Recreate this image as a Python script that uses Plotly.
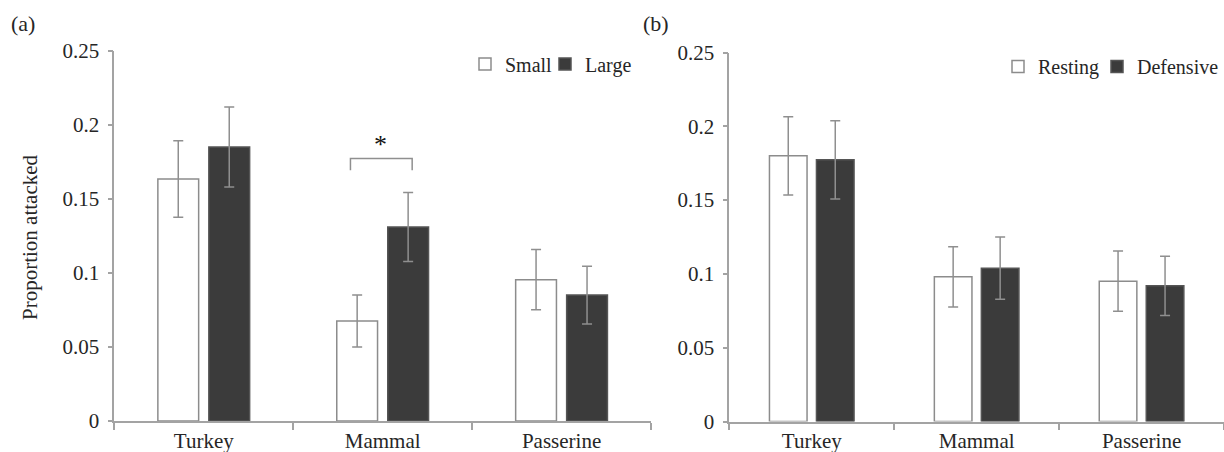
import plotly.graph_objects as go

categories = ["Turkey", "Mammal", "Passerine"]

# Panel (a): prey size
small_vals = [0.1635, 0.0676, 0.0955]
small_err = [0.0258, 0.0176, 0.0203]
large_vals = [0.1851, 0.1311, 0.0851]
large_err = [0.0270, 0.0233, 0.0195]

# Panel (b): posture
resting_vals = [0.1800, 0.0980, 0.0951]
resting_err = [0.0265, 0.0204, 0.0204]
defensive_vals = [0.1773, 0.1039, 0.0919]
defensive_err = [0.0265, 0.0211, 0.0200]

y_ticks = [0, 0.05, 0.1, 0.15, 0.2, 0.25]
y_tick_labels = ["0", "0.05", "0.1", "0.15", "0.2", "0.25"]

# significance bracket (panel a, Mammal)
bracket_x = [0.82, 1.165]
bracket_y = [0.1694, 0.1773]
star_pos = (0.99, 0.1865)

FONT = "'Liberation Serif', 'DejaVu Serif', 'Times New Roman', serif"
TXT = "#262626"
DARK = "#3b3b3b"
OUTLINE = "#8c8c8c"
ERR = "#8f8f8f"
AXIS = "#a3a3a3"
W, H = 1224, 452


def bar(name, vals, err, fill, line, xa, ya, legend):
    return go.Bar(
        name=name, x=categories, y=vals, xaxis=xa, yaxis=ya, legend=legend,
        marker=dict(color=fill, line=dict(color=line, width=1.5)),
        error_y=dict(type="data", array=err, visible=True, color=ERR,
                     thickness=1.5, width=5),
    )


fig = go.Figure()
fig.add_trace(bar("Small", small_vals, small_err, "white", OUTLINE, "x", "y", "legend"))
fig.add_trace(bar("Large", large_vals, large_err, DARK, "#555555", "x", "y", "legend2"))
fig.add_trace(bar("Resting", resting_vals, resting_err, "white", OUTLINE, "x2", "y2", "legend3"))
fig.add_trace(bar("Defensive", defensive_vals, defensive_err, DARK, "#555555", "x2", "y2", "legend4"))

xax = dict(type="category", tickson="boundaries", ticks="outside", ticklen=7,
           tickcolor=AXIS, tickwidth=1.5, showline=True, linecolor=AXIS,
           linewidth=1.5, showgrid=False, zeroline=False, automargin=False,
           range=[-0.5, 2.5], tickfont=dict(family=FONT, size=21, color=TXT),
           fixedrange=True)
yax = dict(range=[0, 0.25], tickvals=y_ticks, ticktext=y_tick_labels,
           ticks="outside", ticklen=5, tickcolor=AXIS, tickwidth=1.5,
           showline=True, linecolor=AXIS, linewidth=1.5, showgrid=False,
           zeroline=False, automargin=False, ticklabelstandoff=4,
           tickfont=dict(family=FONT, size=21, color=TXT), fixedrange=True)


def leg(left_px, center_y_px):
    return dict(orientation="h", x=left_px / W, xanchor="left",
                y=(H - center_y_px) / H, yanchor="middle",
                font=dict(family=FONT, size=20, color=TXT), bgcolor="rgba(0,0,0,0)",
                itemclick=False, itemdoubleclick=False)


fig.update_layout(
    width=W, height=H,
    margin=dict(l=0, r=0, t=0, b=0),
    paper_bgcolor="white", plot_bgcolor="white",
    barmode="group", bargap=0.43, bargroupgap=0.2,
    font=dict(family=FONT, size=20, color=TXT),
    xaxis=dict(xax, domain=[114.3 / W, 651 / W], anchor="y"),
    yaxis=dict(yax, domain=[(H - 421) / H, (H - 51) / H], anchor="x"),
    xaxis2=dict(xax, domain=[729.3 / W, 1.0], anchor="y2"),
    yaxis2=dict(yax, domain=[(H - 421.5) / H, (H - 52.5) / H], anchor="x2"),
    legend=leg(465, 64),
    legend2=leg(545, 64),
    legend3=leg(998, 66.5),
    legend4=leg(1097, 66.5),
    showlegend=True,
)

# bracket
fig.add_shape(type="path", xref="x", yref="y",
              path=f"M {bracket_x[0]},{bracket_y[0]} L {bracket_x[0]},{bracket_y[1]} "
                   f"L {bracket_x[1]},{bracket_y[1]} L {bracket_x[1]},{bracket_y[0]}",
              line=dict(color=ERR, width=1.5))
fig.add_annotation(x=star_pos[0], y=star_pos[1], xref="x", yref="y", text="*",
                   showarrow=False, font=dict(family=FONT, size=26, color="#111111"))

# panel labels and y title
fig.add_annotation(x=23 / W, y=(H - 24) / H, xref="paper", yref="paper",
                   xanchor="center", yanchor="middle",
                   text="(a)", showarrow=False, font=dict(family=FONT, size=22, color=TXT))
fig.add_annotation(x=656 / W, y=(H - 24) / H, xref="paper", yref="paper",
                   xanchor="center", yanchor="middle",
                   text="(b)", showarrow=False, font=dict(family=FONT, size=22, color=TXT))
fig.add_annotation(x=30 / W, y=(H - 237) / H, xref="paper", yref="paper",
                   xanchor="center", yanchor="middle",
                   text="Proportion attacked", textangle=-90, showarrow=False,
                   font=dict(family=FONT, size=21, color=TXT))

fig.write_html("out.html", config={"displayModeBar": False},
               post_script="document.body.style.margin='0';document.body.style.padding='0';")
